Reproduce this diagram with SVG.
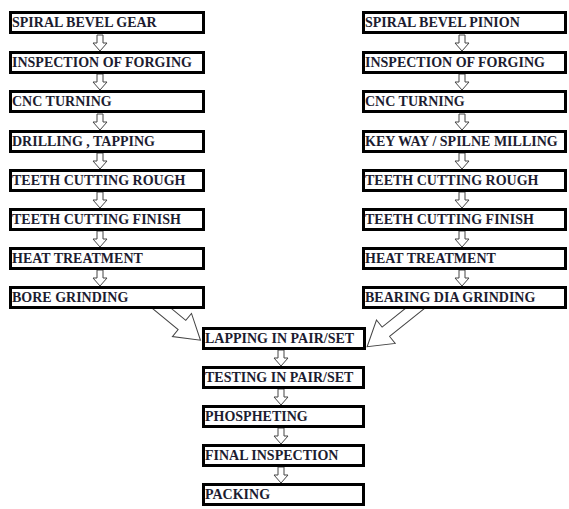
<svg xmlns="http://www.w3.org/2000/svg" width="569" height="509" viewBox="0 0 569 509">
<defs>
<style>
.box{fill:#fff;stroke:#000;stroke-width:3}
.t{font-family:"Liberation Serif","Times New Roman",serif;font-weight:bold;font-size:14px;fill:#1c1c30}
.ar{fill:#fff;stroke:#444;stroke-width:1}
</style>
<path id="sa" d="M-3,0 H3 V8 H7 L0,16 L-7,8 H-3 Z"/>
</defs>
<rect width="569" height="509" fill="#fff"/>
<g id="connectors">
<use href="#sa" class="ar" x="100" y="35"/>
<use href="#sa" class="ar" x="100" y="74"/>
<use href="#sa" class="ar" x="100" y="114"/>
<use href="#sa" class="ar" x="100" y="153"/>
<use href="#sa" class="ar" x="100" y="192"/>
<use href="#sa" class="ar" x="100" y="231"/>
<use href="#sa" class="ar" x="100" y="270"/>
<use href="#sa" class="ar" x="462" y="35"/>
<use href="#sa" class="ar" x="462" y="74"/>
<use href="#sa" class="ar" x="462" y="114"/>
<use href="#sa" class="ar" x="462" y="153"/>
<use href="#sa" class="ar" x="462" y="192"/>
<use href="#sa" class="ar" x="462" y="231"/>
<use href="#sa" class="ar" x="462" y="270"/>
<use href="#sa" class="ar" x="281" y="350"/>
<use href="#sa" class="ar" x="281" y="389"/>
<use href="#sa" class="ar" x="281" y="428"/>
<use href="#sa" class="ar" x="281" y="467"/>
<path class="ar" d="M0,-6 H44 V-15 L68,0 L44,15 V6 H0 Z" transform="translate(148,297) rotate(39.5)"/>
<path class="ar" d="M0,-6 H54 V-15 L78,0 L54,15 V6 H0 Z" transform="translate(428,298) rotate(141.3)"/>
</g>
<g id="n1"><rect class="box" x="10.5" y="12.5" width="193" height="20"/><text class="t" x="12" y="27">SPIRAL BEVEL GEAR</text></g>
<g id="n2"><rect class="box" x="10.5" y="52.5" width="193" height="20"/><text class="t" x="12" y="67">INSPECTION OF FORGING</text></g>
<g id="n3"><rect class="box" x="10.5" y="91.5" width="193" height="20"/><text class="t" x="12" y="106">CNC TURNING</text></g>
<g id="n4"><rect class="box" x="10.5" y="131.5" width="193" height="20"/><text class="t" x="12" y="146">DRILLING , TAPPING</text></g>
<g id="n5"><rect class="box" x="10.5" y="170.5" width="193" height="20"/><text class="t" x="12" y="185">TEETH CUTTING ROUGH</text></g>
<g id="n6"><rect class="box" x="10.5" y="209.5" width="193" height="20"/><text class="t" x="12" y="224">TEETH CUTTING FINISH</text></g>
<g id="n7"><rect class="box" x="10.5" y="248.5" width="193" height="20"/><text class="t" x="12" y="263">HEAT TREATMENT</text></g>
<g id="n8"><rect class="box" x="10.5" y="287.5" width="193" height="20"/><text class="t" x="12" y="302">BORE GRINDING</text></g>
<g id="m1"><rect class="box" x="363.5" y="12.5" width="202" height="20"/><text class="t" x="365" y="27">SPIRAL BEVEL PINION</text></g>
<g id="m2"><rect class="box" x="363.5" y="52.5" width="202" height="20"/><text class="t" x="365" y="67">INSPECTION OF FORGING</text></g>
<g id="m3"><rect class="box" x="363.5" y="91.5" width="202" height="20"/><text class="t" x="365" y="106">CNC TURNING</text></g>
<g id="m4"><rect class="box" x="363.5" y="131.5" width="202" height="20"/><text class="t" x="365" y="146">KEY WAY / SPILNE MILLING</text></g>
<g id="m5"><rect class="box" x="363.5" y="170.5" width="202" height="20"/><text class="t" x="365" y="185">TEETH CUTTING ROUGH</text></g>
<g id="m6"><rect class="box" x="363.5" y="209.5" width="202" height="20"/><text class="t" x="365" y="224">TEETH CUTTING FINISH</text></g>
<g id="m7"><rect class="box" x="363.5" y="248.5" width="202" height="20"/><text class="t" x="365" y="263">HEAT TREATMENT</text></g>
<g id="m8"><rect class="box" x="363.5" y="287.5" width="202" height="20"/><text class="t" x="365" y="302">BEARING DIA GRINDING</text></g>
<g id="c1"><rect class="box" x="203.5" y="328.5" width="161" height="20"/><text class="t" x="205" y="343">LAPPING IN PAIR/SET</text></g>
<g id="c2"><rect class="box" x="203.5" y="367.5" width="160" height="20"/><text class="t" x="205" y="382">TESTING IN PAIR/SET</text></g>
<g id="c3"><rect class="box" x="203.5" y="406.5" width="160" height="20"/><text class="t" x="205" y="421">PHOSPHETING</text></g>
<g id="c4"><rect class="box" x="203.5" y="445.5" width="160" height="20"/><text class="t" x="205" y="460">FINAL INSPECTION</text></g>
<g id="c5"><rect class="box" x="203.5" y="484.5" width="160" height="20"/><text class="t" x="205" y="499">PACKING</text></g>
</svg>
